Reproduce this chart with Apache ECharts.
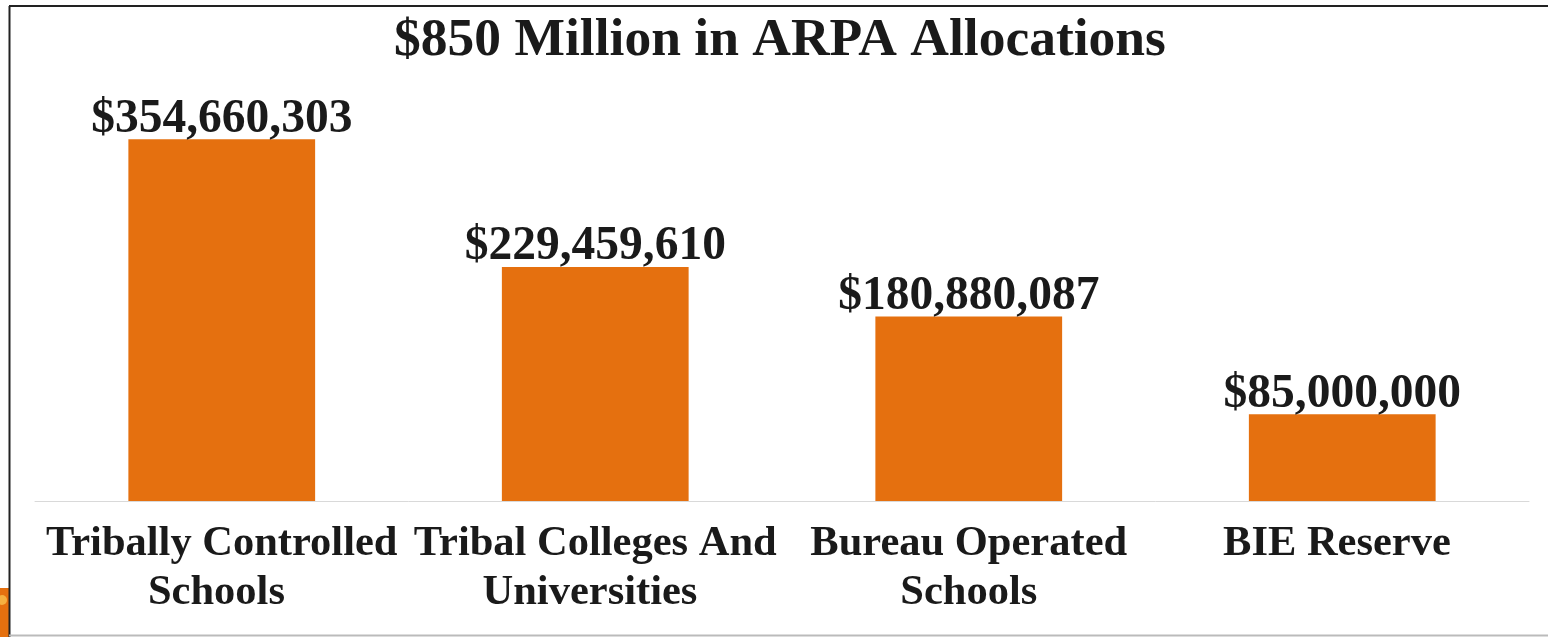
<!DOCTYPE html>
<html><head><meta charset="utf-8">
<style>html,body{margin:0;padding:0;background:#fff}#c{width:1548px;height:637px}</style>
<script src="https://cdn.jsdelivr.net/npm/echarts@6/dist/echarts.min.js"></script>
</head><body><div id="c"></div>
<script>
const chartTitle = "$850 Million in ARPA Allocations";
const categories = ["Tribally Controlled\nSchools ","Tribal Colleges And\nUniversities ","Bureau Operated\nSchools","BIE Reserve "];
const allocations = [354660303,229459610,180880087,85000000];
const serif = '"Liberation Serif","Times New Roman",serif';
const chart = echarts.init(document.getElementById('c'),null,{renderer:'canvas'});
chart.setOption({
  animation:false,
  backgroundColor:'#fff',
  title:{text:chartTitle,left:775,textAlign:'center',top:9,textStyle:{fontFamily:serif,fontWeight:'bold',fontSize:53.5,color:'#1a1a1a'}},
  grid:{left:35,right:19,top:93,bottom:136},
  xAxis:{type:'category',data:categories,
    axisLine:{lineStyle:{color:'#d9d9d9',width:1}},axisTick:{show:false},
    axisLabel:{interval:0,margin:19,lineHeight:49,fontFamily:serif,fontWeight:'bold',fontSize:42.5,color:'#1a1a1a'}},
  yAxis:{type:'value',min:0,max:400000000,show:false,splitLine:{show:false}},
  series:[{type:'bar',data:allocations,barWidth:'50%',itemStyle:{color:'#E5700F'},
    label:{show:true,position:'top',distance:-4,fontFamily:serif,fontWeight:'bold',fontSize:47.5,color:'#1a1a1a',
      formatter:p=>'$'+p.value.toLocaleString('en-US')}}],
  graphic:[
    {type:'rect',shape:{x:0,y:588,width:9,height:49},style:{fill:'#E5700F'},silent:true},
    {type:'circle',shape:{cx:2,cy:600,r:5},style:{fill:'#F5B040'},silent:true},
    {type:'line',shape:{x1:9.5,y1:6,x2:9.5,y2:637},style:{stroke:'#222',lineWidth:2}},
    {type:'line',shape:{x1:9,y1:6,x2:1548,y2:6},style:{stroke:'#222',lineWidth:2}},
    {type:'line',shape:{x1:9,y1:635.5,x2:1548,y2:635.5},style:{stroke:'#bbb',lineWidth:2}}
  ]
});
</script></body></html>
